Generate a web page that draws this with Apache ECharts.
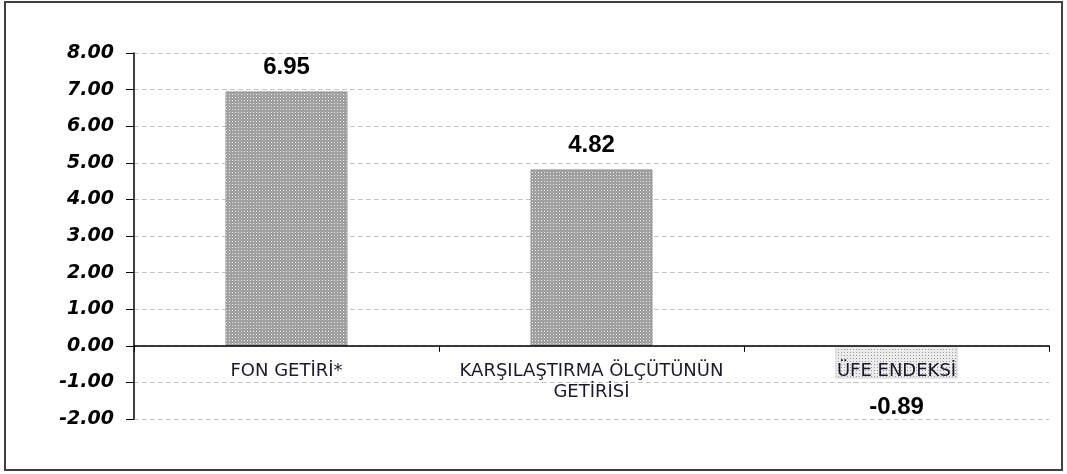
<!DOCTYPE html>
<html>
<head>
<meta charset="utf-8">
<script src="https://cdn.jsdelivr.net/npm/echarts@6/dist/echarts.min.js"></script>
<style>
  html, body { margin: 0; padding: 0; background: #fff; }
  #chart { width: 1067px; height: 474px; }
</style>
</head>
<body>
<div id="chart"></div>
<script>
const categories = ['FON GETİRİ*', 'KARŞILAŞTIRMA ÖLÇÜTÜNÜN\nGETİRİSİ', 'ÜFE ENDEKSİ']
const values = [6.95, 4.82, -0.89]
const yMin = -2, yMax = 8, yStep = 1

// dotted fill like the old spreadsheet pattern
function dotPattern(bg, dot) {
  const c = document.createElement('canvas')
  c.width = 3; c.height = 3
  const ctx = c.getContext('2d')
  ctx.fillStyle = bg
  ctx.fillRect(0, 0, 3, 3)
  ctx.fillStyle = dot
  ctx.fillRect(1, 1, 1, 1)
  return c
}
const darkFill = { image: dotPattern('#a0a0a0', '#e8e8e8'), repeat: 'repeat' }
const lightFill = { image: dotPattern('#ececec', '#9c9c9c'), repeat: 'repeat' }

const chart = echarts.init(document.getElementById('chart'))
chart.setOption({
  animation: false,
  graphic: [{
    type: 'rect',
    shape: { x: 5, y: 2, width: 1057, height: 468 },
    style: { fill: 'none', stroke: '#404040', lineWidth: 2 }
  }],
  grid: { left: 134, right: 18, top: 53, bottom: 55 },
  xAxis: {
    type: 'category',
    data: categories,
    z: 5,
    axisLine: { onZero: true, lineStyle: { color: '#000', width: 1.5 } },
    axisTick: { show: true, alignWithLabel: false, length: 6, lineStyle: { color: '#000' } },
    axisLabel: {
      color: '#1a1a2a', fontFamily: 'DejaVu Sans', fontSize: 18, lineHeight: 21,
      margin: -58, interval: 0
    }
  },
  yAxis: {
    type: 'value',
    min: yMin, max: yMax, interval: yStep,
    axisLine: { show: true, lineStyle: { color: '#000', width: 1.5 } },
    axisTick: { show: true, length: 8, lineStyle: { color: '#000' } },
    axisLabel: {
      color: '#000', fontFamily: 'DejaVu Sans', fontSize: 19,
      fontWeight: 'bold', fontStyle: 'italic', margin: 20,
      formatter: v => v.toFixed(2)
    },
    splitLine: { lineStyle: { color: '#c4c4c4', type: [5, 3], width: 1 } }
  },
  series: [{
    type: 'bar',
    barWidth: '40%',
    data: values.map((v, i) => ({
      value: v,
      itemStyle: { color: v < 0 ? lightFill : darkFill, borderColor: v < 0 ? '#c8c8c8' : '#999', borderWidth: 0.8 },
      label: { position: v < 0 ? 'bottom' : 'top', distance: v < 0 ? 17 : 12 }
    })),
    label: {
      show: true,
      color: '#000', fontFamily: 'Liberation Sans, Arial', fontSize: 24, fontWeight: 'bold',
      formatter: p => p.value.toFixed(2)
    }
  }]
})
</script>
</body>
</html>
